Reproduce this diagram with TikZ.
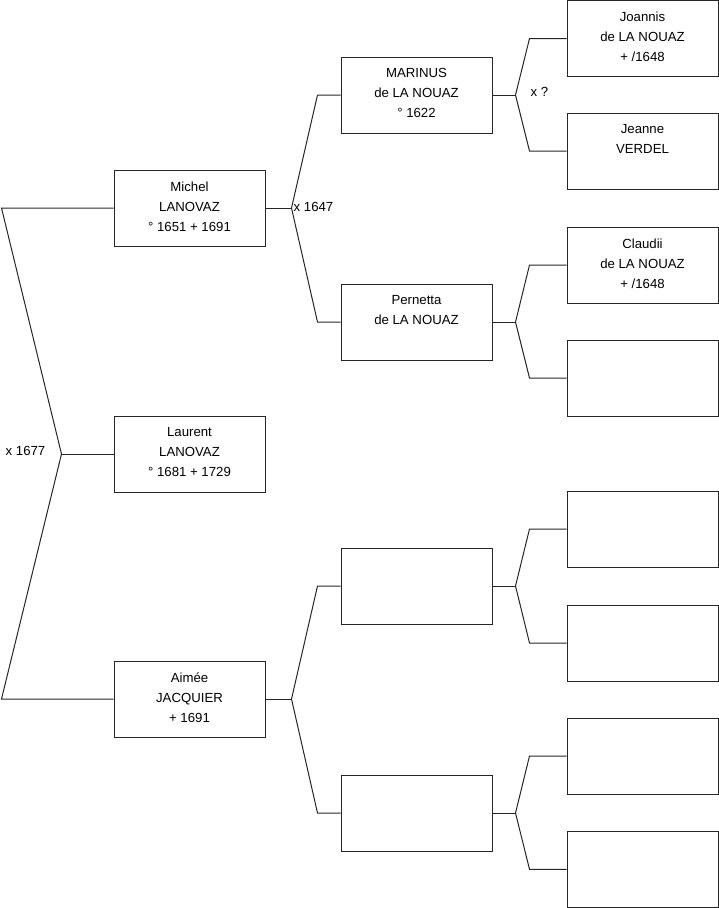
\documentclass[tikz,border=0pt]{standalone}
\usepackage{fontspec}
\setmainfont{Liberation Sans}
\usetikzlibrary{positioning, calc}

\tikzset{
  person/.style={draw=black!85, line width=1pt, minimum width=151pt, minimum height=76pt, inner sep=0pt},
  names/.style={align=center, inner sep=0pt, font=\fontsize{13.2}{20}\selectfont},
  wed/.style={inner sep=0pt, font=\fontsize{13.2}{16}\selectfont},
  link/.style={draw=black!85, line width=1pt},
}

\begin{document}
\begin{tikzpicture}[x=1pt, y=-1pt]
        \useasboundingbox (0,0) rectangle (719,908);
        % generation 1
        \node[person] (laurent) at (189.5,454) {};
        \node[person] (michel) at (189.5,208) {};
        \node[person] (aimee) at (189.5,699) {};
        % generation 2
        \node[person] (marinus) at (416.5,95) {};
        \node[person] (pernetta) at (416.5,322) {};
        \node[person] (aimeefa) at (416.5,586) {};
        \node[person] (aimeemo) at (416.5,813) {};
        % generation 3
        \node[person] (joannis) at (642.5,38.5) {};
        \node[person] (jeanne) at (642.5,151) {};
        \node[person] (claudii) at (642.5,265) {};
        \node[person] (claudiiw) at (642.5,378) {};
        \node[person] (gp5) at (642.5,529) {};
        \node[person] (gp6) at (642.5,643) {};
        \node[person] (gp7) at (642.5,756) {};
        \node[person] (gp8) at (642.5,869.3) {};

        % noms dans les cases
        \node[names, below=12pt of laurent.north] (laurent-n) {Laurent\\LANOVAZ\\° 1681 + 1729};
        \node[names, below=12pt of michel.north] (michel-n) {Michel\\LANOVAZ\\° 1651 + 1691};
        \node[names, below=12pt of aimee.north] (aimee-n) {Aimée\\JACQUIER\\+ 1691};
        \node[names, below=12pt of marinus.north] (marinus-n) {MARINUS\\de LA NOUAZ\\° 1622};
        \node[names, below=12pt of pernetta.north] (pernetta-n) {Pernetta\\de LA NOUAZ};
        \node[names, below=12pt of joannis.north] (joannis-n) {Joannis\\de LA NOUAZ\\+ /1648};
        \node[names, below=12pt of jeanne.north] (jeanne-n) {Jeanne\\VERDEL};
        \node[names, below=12pt of claudii.north] (claudii-n) {Claudii\\de LA NOUAZ\\+ /1648};

        % points de fourche
        \coordinate[left=52pt of laurent.west] (xl);
        \coordinate[right=26pt of michel.east] (xm);
        \coordinate[right=26pt of aimee.east] (xa);
        \coordinate[right=23pt of marinus.east] (xma);
        \coordinate[right=23pt of pernetta.east] (xpe);
        \coordinate[right=23pt of aimeefa.east] (xaf);
        \coordinate[right=23pt of aimeemo.east] (xam);

        % liens
        \draw[link] (laurent) -- (xl);
        \draw[link] (michel.west) -- ++(-112,0) -- (xl) -- ($(aimee.west)+(-112,0)$) -- (aimee.west);
        \draw[link] (michel) -- (xm);
        \draw[link] (marinus.west) -- ++(-23,0) -- (xm) -- ($(pernetta.west)+(-23,0)$) -- (pernetta.west);
        \draw[link] (aimee) -- (xa);
        \draw[link] (aimeefa.west) -- ++(-23,0) -- (xa) -- ($(aimeemo.west)+(-23,0)$) -- (aimeemo.west);
        \draw[link] (marinus) -- (xma);
        \draw[link] (joannis.west) -- ++(-37,0) -- (xma) -- ($(jeanne.west)+(-37,0)$) -- (jeanne.west);
        \draw[link] (pernetta) -- (xpe);
        \draw[link] (claudii.west) -- ++(-37,0) -- (xpe) -- ($(claudiiw.west)+(-37,0)$) -- (claudiiw.west);
        \draw[link] (aimeefa) -- (xaf);
        \draw[link] (gp5.west) -- ++(-37,0) -- (xaf) -- ($(gp6.west)+(-37,0)$) -- (gp6.west);
        \draw[link] (aimeemo) -- (xam);
        \draw[link] (gp7.west) -- ++(-37,0) -- (xam) -- ($(gp8.west)+(-37,0)$) -- (gp8.west);

        % mariages
        \node[wed, anchor=east] (w-laurent) at ($(xl)+(-16,-3)$) {x 1677};
        \node[wed, anchor=west] (w-michel) at ($(xm)+(2,-1)$) {x 1647};
        \node[wed, anchor=west] (w-marinus) at ($(xma)+(15,-3)$) {x ?};
\end{tikzpicture}
\end{document}
